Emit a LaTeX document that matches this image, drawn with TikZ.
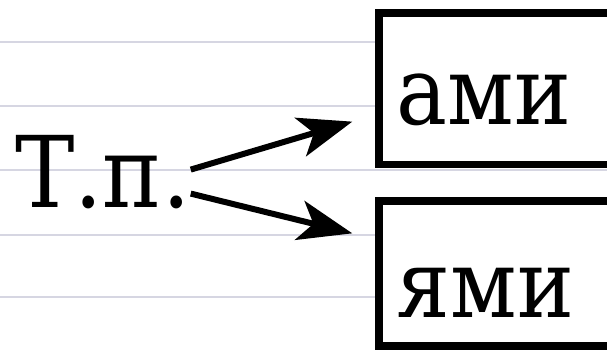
\documentclass[tikz,border=0pt]{standalone}
\usepackage{fontspec}
\setmainfont{DejaVu Serif Condensed}
\newfontfamily\wordfont{DejaVu Serif Condensed}
\usetikzlibrary{arrows.meta, positioning, calc}
\definecolor{ruleline}{RGB}{214,214,226}

\begin{document}
\begin{tikzpicture}[x=1pt, y=1pt, >={Stealth[length=54pt, width=40pt, inset=14pt]},
    wordbox/.style={draw, fill=white, line width=7.3pt, inner xsep=18pt, inner ysep=0pt,
        text width=240pt, align=left, anchor=base west,
        font=\wordfont\fontsize{95pt}{110pt}\selectfont}]
        \clip (0,0) rectangle (607,355);
        \fill [white] (0,0) rectangle (607,355);
        % Ruled paper lines
        \foreach \y in {313, 249, 185, 120, 58}
            \draw [ruleline, line width=2.5pt] (0,\y) -- (607,\y);
        % Ending and the two boxes
        \node [inner sep=0pt, anchor=base west, font=\wordfont\fontsize{99pt}{110pt}\selectfont] (tp) at (15,147) {Т.п.};
        \node [wordbox, text height=112pt, text depth=39.5pt] (ami) at (375.3,230) {ами};
        \node [wordbox, text height=117pt, text depth=28pt] (yami) at (375.3,37) {ями};
        % Arrows to the boxes
        \draw [->, line width=6pt] ([yshift=40pt]tp.south east) -- ([xshift=-23pt, yshift=46.5pt]ami.south west);
        \draw [->, line width=6pt] ([yshift=16pt]tp.south east) -- ([xshift=-23pt, yshift=-36pt]yami.north west);
    \end{tikzpicture}
\end{document}
